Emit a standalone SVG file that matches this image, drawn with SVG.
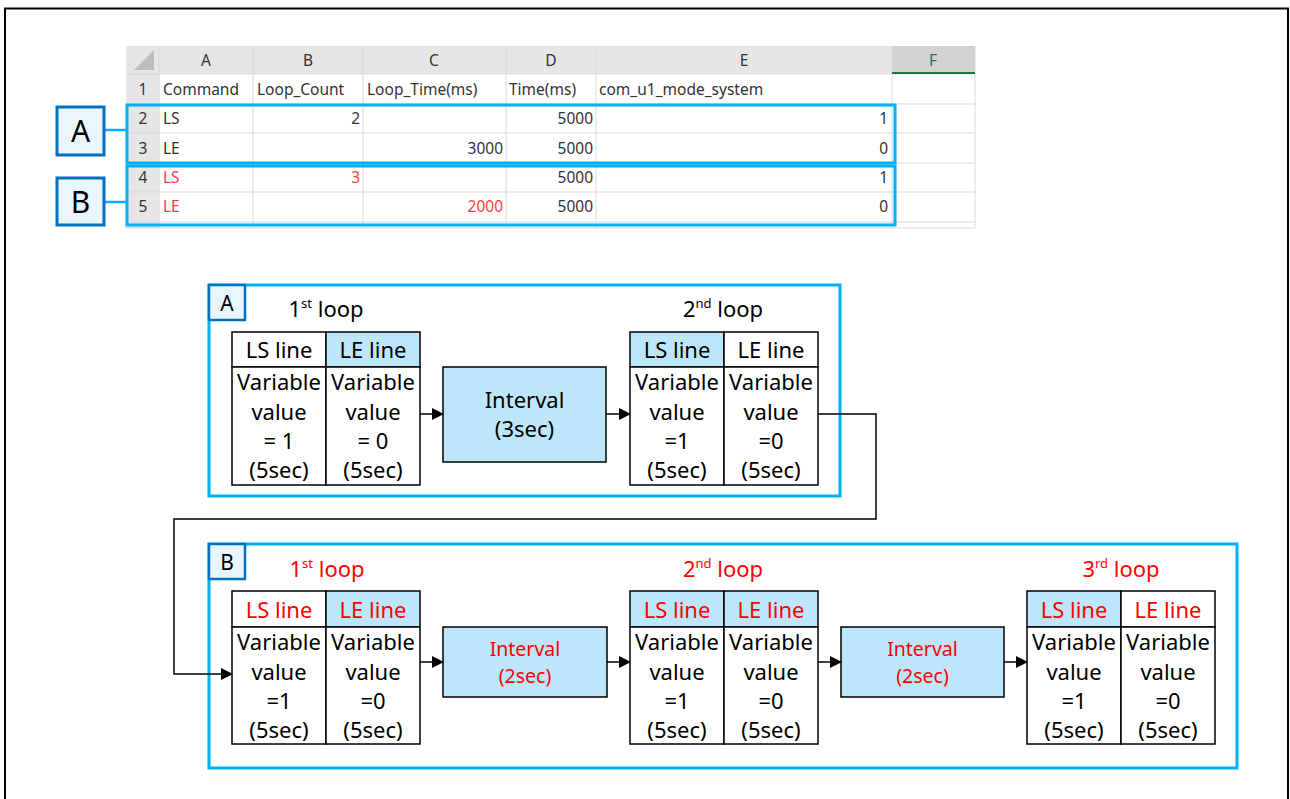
<svg xmlns="http://www.w3.org/2000/svg" width="1290" height="799" viewBox="0 0 1290 799">
<defs>
<style>
.ss{font-family:"Noto Sans","Liberation Sans",sans-serif;font-size:15.5px;fill:#333}
.ssh{font-family:"Noto Sans","Liberation Sans",sans-serif;font-size:15.5px;fill:#333;text-anchor:middle}
.r{text-anchor:end}
.red{fill:#FF3B3B}
.g{stroke:#D9D9D9;stroke-width:1}
.t{font-family:"Noto Sans","Liberation Sans",sans-serif;font-size:22px;fill:#000;text-anchor:middle}
.iv{font-size:19.5px}
.rt{fill:#FF0000}
.cell{fill:#fff;stroke:#000;stroke-width:1.5}
.bl{fill:#BEE6FB;stroke:#000;stroke-width:1.5}
.grp{fill:none;stroke:#00B0F0;stroke-width:3}
.lab{fill:#EAF6FD;stroke:#0070C0;stroke-width:3}
.conn{fill:none;stroke:#000;stroke-width:1.5}
</style>
<marker id="ah" markerWidth="12" markerHeight="12" refX="11" refY="6" orient="auto" markerUnits="userSpaceOnUse">
<path d="M0,0 L12,6 L0,12 Z" fill="#000"/>
</marker>
</defs>
<rect width="1290" height="799" fill="#fff"/>
<path d="M5,805 V8.5 H1288 V805" fill="none" stroke="#000" stroke-width="2"/>

<g id="spreadsheet">
<rect x="126" y="46" width="849" height="28" fill="#E6E6E6"/>
<rect x="892" y="46" width="83" height="28" fill="#D2D2D2"/>
<rect x="126" y="74" width="33" height="154" fill="#E6E6E6"/>
<path d="M154,50 L154,70 L134,70 Z" fill="#BDBDBD"/>
<g class="g">
<line x1="159" y1="46" x2="159" y2="228"/>
<line x1="253" y1="46" x2="253" y2="228"/>
<line x1="363" y1="46" x2="363" y2="228"/>
<line x1="506" y1="46" x2="506" y2="228"/>
<line x1="596" y1="46" x2="596" y2="228"/>
<line x1="892" y1="46" x2="892" y2="228"/>
<line x1="975" y1="46" x2="975" y2="228"/>
<line x1="126" y1="74" x2="975" y2="74"/>
<line x1="126" y1="104" x2="975" y2="104"/>
<line x1="126" y1="133" x2="975" y2="133"/>
<line x1="126" y1="163" x2="975" y2="163"/>
<line x1="126" y1="192" x2="975" y2="192"/>
<line x1="126" y1="222" x2="975" y2="222"/>
<line x1="126" y1="228" x2="975" y2="228"/>
</g>
<line x1="892" y1="73" x2="975" y2="73" stroke="#217346" stroke-width="2"/>
<text class="ssh" x="206" y="66">A</text>
<text class="ssh" x="308" y="66">B</text>
<text class="ssh" x="434" y="66">C</text>
<text class="ssh" x="551" y="66">D</text>
<text class="ssh" x="744" y="66">E</text>
<text class="ssh" x="933" y="66" style="fill:#217346">F</text>
<text class="ssh" x="143" y="95">1</text>
<text class="ssh" x="143" y="124">2</text>
<text class="ssh" x="143" y="154">3</text>
<text class="ssh" x="143" y="183">4</text>
<text class="ssh" x="143" y="212">5</text>
<text class="ss" x="163" y="95">Command</text>
<text class="ss" x="257" y="95">Loop_Count</text>
<text class="ss" x="367" y="95">Loop_Time(ms)</text>
<text class="ss" x="509" y="95">Time(ms)</text>
<text class="ss" x="599" y="95">com_u1_mode_system</text>
<text class="ss" x="163" y="124">LS</text>
<text class="ss r" x="360" y="124">2</text>
<text class="ss r" x="593" y="124">5000</text>
<text class="ss r" x="888" y="124">1</text>
<text class="ss" x="163" y="154">LE</text>
<text class="ss r" x="503" y="154">3000</text>
<text class="ss r" x="593" y="154">5000</text>
<text class="ss r" x="888" y="154">0</text>
<text class="ss red" x="163" y="183">LS</text>
<text class="ss r red" x="360" y="183">3</text>
<text class="ss r" x="593" y="183">5000</text>
<text class="ss r" x="888" y="183">1</text>
<text class="ss red" x="163" y="212">LE</text>
<text class="ss r red" x="503" y="212">2000</text>
<text class="ss r" x="593" y="212">5000</text>
<text class="ss r" x="888" y="212">0</text>
<rect class="grp" x="127" y="105" width="768" height="58"/>
<rect class="grp" x="127" y="166" width="768" height="59"/>
<line x1="105" y1="130" x2="127" y2="130" stroke="#00B0F0" stroke-width="2.5"/>
<line x1="105" y1="202" x2="127" y2="202" stroke="#00B0F0" stroke-width="2.5"/>
</g>
<g id="labelA">
<rect class="lab" x="57" y="107" width="47" height="48"/>
<text x="80.5" y="142" text-anchor="middle" style="font-family:'Noto Sans','Liberation Sans',sans-serif;font-size:30px;fill:#000">A</text>
</g>
<g id="labelB">
<rect class="lab" x="57" y="178" width="47" height="47"/>
<text x="80.5" y="213" text-anchor="middle" style="font-family:'Noto Sans','Liberation Sans',sans-serif;font-size:30px;fill:#000">B</text>
</g>

<g id="groupA">
<rect class="grp" x="209" y="285" width="631" height="211"/>
<rect x="209" y="285" width="36" height="35" fill="#EAF6FD" stroke="#0070C0" stroke-width="2.5"/>
<text class="t" x="227" y="311" style="font-size:21px">A</text>
<text class="t" x="326" y="317" style="font-size:22px">1<tspan dy="-9" style="font-size:13px">st</tspan><tspan dy="9"> loop</tspan></text>
<text class="t" x="723" y="317" style="font-size:22px">2<tspan dy="-9" style="font-size:13px">nd</tspan><tspan dy="9"> loop</tspan></text>
</g>
<g id="A-loop1">
<rect class="cell" x="232" y="332" width="94" height="35"/>
<rect class="bl" x="326" y="332" width="94" height="35"/>
<rect class="cell" x="232" y="367" width="94" height="118"/>
<rect class="cell" x="326" y="367" width="94" height="118"/>
<text class="t" x="279" y="358">LS line</text>
<text class="t" x="373" y="358">LE line</text>
<text class="t" x="279" y="390">Variable<tspan x="279" dy="30">value</tspan><tspan x="279" dy="29">= 1</tspan><tspan x="279" dy="29">(5sec)</tspan></text>
<text class="t" x="373" y="390">Variable<tspan x="373" dy="30">value</tspan><tspan x="373" dy="29">= 0</tspan><tspan x="373" dy="29">(5sec)</tspan></text>
</g>
<g id="A-interval">
<rect class="bl" x="443" y="367" width="163" height="95"/>
<text class="t" x="524.5" y="408">Interval<tspan x="524.5" dy="29">(3sec)</tspan></text>
</g>
<g id="A-loop2">
<rect class="bl" x="630" y="332" width="94" height="35"/>
<rect class="cell" x="724" y="332" width="94" height="35"/>
<rect class="cell" x="630" y="367" width="94" height="118"/>
<rect class="cell" x="724" y="367" width="94" height="118"/>
<text class="t" x="677" y="358">LS line</text>
<text class="t" x="771" y="358">LE line</text>
<text class="t" x="677" y="390">Variable<tspan x="677" dy="30">value</tspan><tspan x="677" dy="29">=1</tspan><tspan x="677" dy="29">(5sec)</tspan></text>
<text class="t" x="771" y="390">Variable<tspan x="771" dy="30">value</tspan><tspan x="771" dy="29">=0</tspan><tspan x="771" dy="29">(5sec)</tspan></text>
</g>

<g id="groupB">
<rect class="grp" x="209" y="544" width="1028" height="224"/>
<rect x="209" y="544" width="36" height="35" fill="#EAF6FD" stroke="#0070C0" stroke-width="2.5"/>
<text class="t" x="227" y="570" style="font-size:21px">B</text>
<text class="t rt" x="327" y="577" style="font-size:22px">1<tspan dy="-9" style="font-size:13px">st</tspan><tspan dy="9"> loop</tspan></text>
<text class="t rt" x="723" y="577" style="font-size:22px">2<tspan dy="-9" style="font-size:13px">nd</tspan><tspan dy="9"> loop</tspan></text>
<text class="t rt" x="1121" y="577" style="font-size:22px">3<tspan dy="-9" style="font-size:13px">rd</tspan><tspan dy="9"> loop</tspan></text>
</g>
<g id="B-loop1">
<rect class="cell" x="232" y="591" width="94" height="36"/>
<rect class="bl" x="326" y="591" width="94" height="36"/>
<rect class="cell" x="232" y="627" width="94" height="117"/>
<rect class="cell" x="326" y="627" width="94" height="117"/>
<text class="t rt" x="279" y="618">LS line</text>
<text class="t rt" x="373" y="618">LE line</text>
<text class="t" x="279" y="650">Variable<tspan x="279" dy="30">value</tspan><tspan x="279" dy="29">=1</tspan><tspan x="279" dy="29">(5sec)</tspan></text>
<text class="t" x="373" y="650">Variable<tspan x="373" dy="30">value</tspan><tspan x="373" dy="29">=0</tspan><tspan x="373" dy="29">(5sec)</tspan></text>
</g>
<g id="B-interval1">
<rect class="bl" x="443" y="627" width="164" height="70"/>
<text class="t rt iv" x="525" y="656">Interval<tspan x="525" dy="27">(2sec)</tspan></text>
</g>
<g id="B-loop2">
<rect class="bl" x="630" y="591" width="94" height="36"/>
<rect class="bl" x="724" y="591" width="94" height="36"/>
<rect class="cell" x="630" y="627" width="94" height="117"/>
<rect class="cell" x="724" y="627" width="94" height="117"/>
<text class="t rt" x="677" y="618">LS line</text>
<text class="t rt" x="771" y="618">LE line</text>
<text class="t" x="677" y="650">Variable<tspan x="677" dy="30">value</tspan><tspan x="677" dy="29">=1</tspan><tspan x="677" dy="29">(5sec)</tspan></text>
<text class="t" x="771" y="650">Variable<tspan x="771" dy="30">value</tspan><tspan x="771" dy="29">=0</tspan><tspan x="771" dy="29">(5sec)</tspan></text>
</g>
<g id="B-interval2">
<rect class="bl" x="841" y="627" width="163" height="70"/>
<text class="t rt iv" x="922.5" y="656">Interval<tspan x="922.5" dy="27">(2sec)</tspan></text>
</g>
<g id="B-loop3">
<rect class="bl" x="1027" y="591" width="94" height="36"/>
<rect class="cell" x="1121" y="591" width="94" height="36"/>
<rect class="cell" x="1027" y="627" width="94" height="117"/>
<rect class="cell" x="1121" y="627" width="94" height="117"/>
<text class="t rt" x="1074" y="618">LS line</text>
<text class="t rt" x="1168" y="618">LE line</text>
<text class="t" x="1074" y="650">Variable<tspan x="1074" dy="30">value</tspan><tspan x="1074" dy="29">=1</tspan><tspan x="1074" dy="29">(5sec)</tspan></text>
<text class="t" x="1168" y="650">Variable<tspan x="1168" dy="30">value</tspan><tspan x="1168" dy="29">=0</tspan><tspan x="1168" dy="29">(5sec)</tspan></text>
</g>

<g id="connectors">
<line class="conn" x1="420" y1="414" x2="443" y2="414" marker-end="url(#ah)"/>
<line class="conn" x1="606" y1="414" x2="630" y2="414" marker-end="url(#ah)"/>
<path class="conn" d="M818,414 H876 V519 H174 V674 H232" marker-end="url(#ah)"/>
<line class="conn" x1="420" y1="662" x2="443" y2="662" marker-end="url(#ah)"/>
<line class="conn" x1="607" y1="662" x2="630" y2="662" marker-end="url(#ah)"/>
<line class="conn" x1="818" y1="662" x2="841" y2="662" marker-end="url(#ah)"/>
<line class="conn" x1="1004" y1="662" x2="1027" y2="662" marker-end="url(#ah)"/>
</g>
</svg>
